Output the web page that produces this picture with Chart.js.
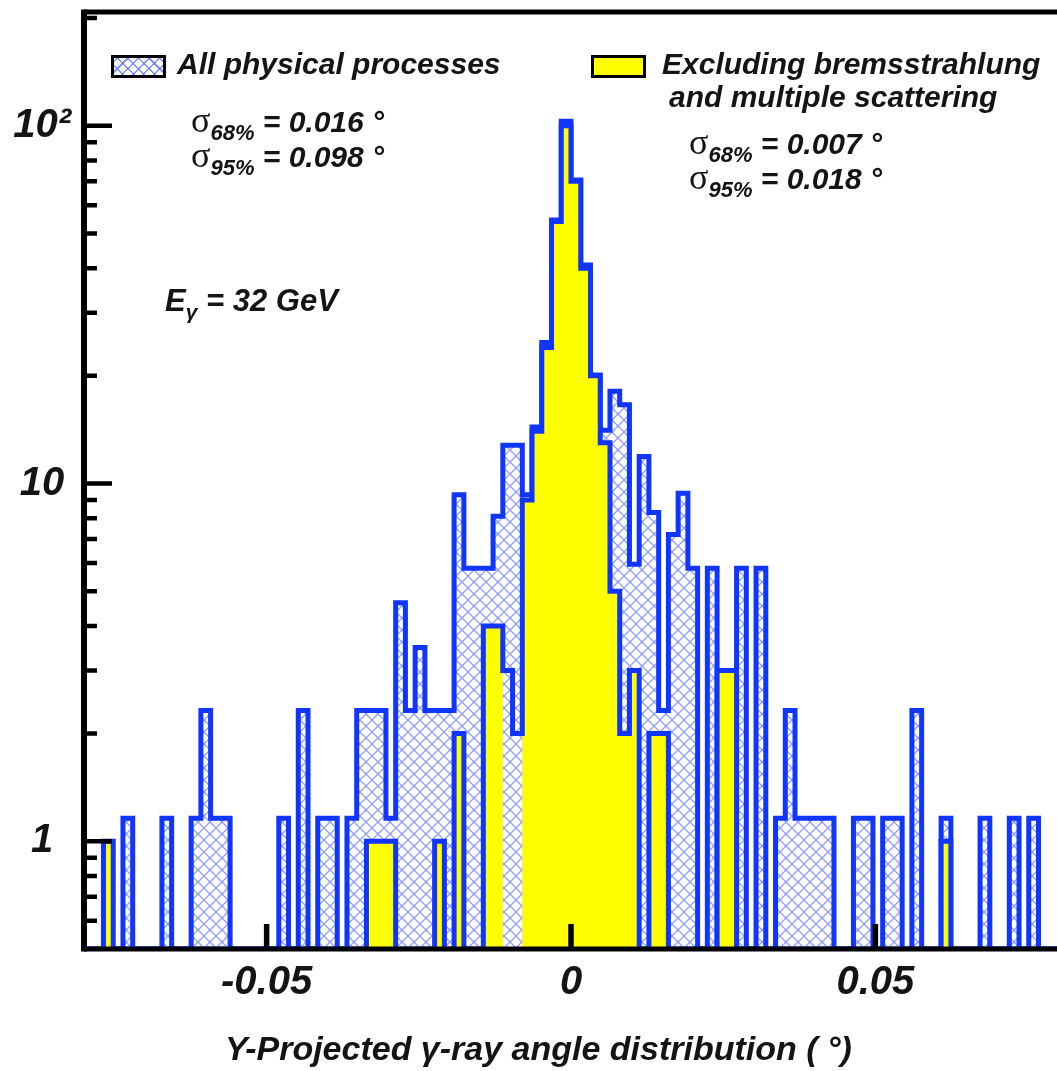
<!DOCTYPE html>
<html><head><meta charset="utf-8">
<script src="https://cdn.jsdelivr.net/npm/chart.js@4/dist/chart.umd.min.js"></script>
<style>
html,body{margin:0;padding:0;overflow:hidden;background:#fff;width:1057px;height:1071px}
#wrap{position:relative;width:1070px;height:1071px}
canvas{position:absolute;left:0;top:0}
.t{position:absolute;font-family:'Liberation Sans',Arial,sans-serif;font-style:italic;font-weight:bold;color:#141414;white-space:nowrap;line-height:1}
.sig{font-family:'Liberation Serif','DejaVu Serif',serif;font-style:normal;font-weight:normal;font-size:36px}
.sub{font-size:22px;position:relative;top:8px}
.box{position:absolute;box-sizing:border-box;border:3px solid #000}
</style></head>
<body>
<div id="wrap">
<canvas id="c" width="1070" height="1071"></canvas>
<div class="box" id="hbox" style="left:111px;top:55px;width:55px;height:23px"></div>
<div class="t" style="left:177px;top:49px;font-size:30px">All physical processes</div>
<div class="box" style="left:591px;top:55px;width:55px;height:23px;background:#ffff00"></div>
<div class="t" style="left:662px;top:49px;font-size:30px">Excluding bremsstrahlung</div>
<div class="t" style="left:669px;top:82px;font-size:30px">and multiple scattering</div>
<div class="t" style="left:191px;top:102px;font-size:30px"><span class="sig">σ</span><span class="sub">68%</span> = 0.016 °</div>
<div class="t" style="left:191px;top:137px;font-size:30px"><span class="sig">σ</span><span class="sub">95%</span> = 0.098 °</div>
<div class="t" style="left:689px;top:124px;font-size:30px"><span class="sig">σ</span><span class="sub">68%</span> = 0.007 °</div>
<div class="t" style="left:689px;top:159px;font-size:30px"><span class="sig">σ</span><span class="sub">95%</span> = 0.018 °</div>
<div class="t" style="left:165px;top:285px;font-size:31px">E<span class="sub" style="font-size:21px;top:8px">γ</span> = 32 GeV</div>
<div class="t" style="left:225px;top:1031px;font-size:34px">Y-Projected γ-ray angle distribution ( °)</div>
</div>
<script>
// ---- data ----
const X_MIN = -0.08, X_MAX = 0.08, BIN_WIDTH = 0.0016, Y_MIN = 0.5, Y_MAX = 208;
const binLowEdges = Array.from({length: 100}, (_, i) => +(X_MIN + i * BIN_WIDTH).toFixed(4));

// "All physical processes" (hatched)
const allProcesses = [
  0, 0, 0, 0, 1.16, 0, 0, 0, 1.16, 0,
  0, 1.16, 2.32, 1.16, 1.16, 0, 0, 0, 0, 0,
  1.16, 0, 2.32, 0, 1.16, 1.16, 0, 1.16, 2.32, 2.32,
  2.32, 1.16, 4.64, 2.32, 3.48, 2.32, 2.32, 2.32, 9.3, 5.8,
  5.8, 5.8, 8.1, 12.8, 12.8, 9.3, 14.4, 24.8, 54.5, 103,
  70.5, 40.8, 20.1, 14.1, 18.1, 16.6, 5.95, 11.9, 8.3, 2.32,
  7.2, 9.4, 5.8, 0, 5.8, 0, 0, 5.8, 0, 5.8,
  0, 1.16, 2.32, 1.16, 1.16, 1.16, 1.16, 0, 0, 1.16,
  1.16, 0, 1.16, 1.16, 0, 2.32, 0, 0, 1.16, 0,
  0, 0, 1.16, 0, 0, 1.16, 0, 1.16, 0, 0
];
// "Excluding bremsstrahlung and multiple scattering" (yellow)
const noBremsNoMS = [
  0, 0, 1, 0, 0, 0, 0, 0, 0, 0,
  0, 0, 0, 0, 0, 0, 0, 0, 0, 0,
  0, 0, 0, 0, 0, 0, 0, 0, 0, 1,
  1, 1, 0, 0, 0, 0, 1, 0, 2, 0,
  0, 4, 4, 3, 2, 9, 14, 24, 54, 100,
  70, 40, 20, 13, 5, 2, 3, 0, 2, 2,
  0, 0, 0, 0, 0, 3, 3, 0, 0, 0,
  0, 0, 0, 0, 0, 0, 0, 0, 0, 0,
  0, 0, 0, 0, 0, 0, 0, 0, 1, 0,
  0, 0, 0, 0, 0, 0, 0, 0, 0, 0
];
const xTickValues = [-0.05, 0, 0.05];
const xTickLabels = ['-0.05', '0', '0.05'];
const yTickValues = [1, 10, 100];
const yTickLabels = ['1', '10', '10²'];
const yMinorTicks = [0.6, 0.7, 0.8, 0.9, 2, 3, 4, 5, 6, 7, 8, 9, 20, 30, 40, 50, 60, 70, 80, 90, 200];

// ---- styles ----
const BLUE = '#0f35ff';
const YELLOW = '#ffff00';
const FONT = "'Liberation Sans', Arial, sans-serif";
// bins whose yellow outline in the reference sits over the hatch, without yellow fill
const yellowOutlineOnlyBins = [43, 44];

function hatchPattern(size, color) {
  const c = document.createElement('canvas');
  c.width = c.height = size;
  const g = c.getContext('2d');
  g.fillStyle = '#fff'; g.fillRect(0, 0, size, size);
  g.strokeStyle = color; g.lineWidth = 1.3;
  g.beginPath();
  g.moveTo(-1, -1); g.lineTo(size + 1, size + 1);
  g.moveTo(size + 1, -1); g.lineTo(-1, size + 1);
  g.stroke();
  return g.createPattern(c, 'repeat');
}
const hatch = hatchPattern(12, 'rgba(85,105,255,0.65)');
(function () {
  const hb = document.getElementById('hbox');
  hb.style.background = '#fff';
  hb.style.backgroundImage = 'repeating-linear-gradient(45deg, transparent 0 6px, rgba(85,105,255,0.7) 6px 7.5px), repeating-linear-gradient(-45deg, transparent 0 6px, rgba(85,105,255,0.7) 6px 7.5px)';
})();

function stepPoints(counts) {
  const pts = [{x: binLowEdges[0], y: Y_MIN}];
  counts.forEach((c, i) => pts.push({x: binLowEdges[i], y: c > 0 ? c : Y_MIN}));
  pts.push({x: +(binLowEdges[counts.length - 1] + BIN_WIDTH).toFixed(4), y: Y_MIN});
  return pts;
}
const yellowFillCounts = noBremsNoMS.map((v, i) => yellowOutlineOnlyBins.includes(i) ? 0 : v);

const framePlugin = {
  id: 'frame',
  afterDatasetsDraw(chart) {
    const {ctx, chartArea: a, scales: {x, y}} = chart;
    ctx.save();
    ctx.strokeStyle = '#000';
    ctx.lineCap = 'butt';
    ctx.lineWidth = 4.5;
    ctx.beginPath();
    yMinorTicks.forEach(v => {
      const p = y.getPixelForValue(v);
      if (p < a.top || p > a.bottom) return;
      ctx.moveTo(a.left, p); ctx.lineTo(a.left + 13, p);
    });
    yTickValues.forEach(v => {
      const p = y.getPixelForValue(v);
      ctx.moveTo(a.left, p); ctx.lineTo(a.left + 28, p);
    });
    ctx.stroke();
    ctx.lineWidth = 5.5;
    ctx.beginPath();
    xTickValues.forEach(v => {
      const p = x.getPixelForValue(v);
      ctx.moveTo(p, a.bottom); ctx.lineTo(p, a.bottom - 25);
    });
    ctx.stroke();
    ctx.lineWidth = 5;
    ctx.beginPath();
    ctx.moveTo(a.left, a.top); ctx.lineTo(a.right + 10, a.top);
    ctx.moveTo(a.left, a.bottom); ctx.lineTo(a.right + 10, a.bottom);
    ctx.stroke();
    ctx.lineWidth = 6;
    ctx.beginPath();
    ctx.moveTo(a.left, a.top - 2.5); ctx.lineTo(a.left, a.bottom + 2.5);
    ctx.stroke();
    ctx.restore();
  }
};

new Chart(document.getElementById('c'), {
  type: 'line',
  data: {
    datasets: [
      {
        label: 'Excluding bremsstrahlung and multiple scattering',
        data: stepPoints(noBremsNoMS),
        stepped: 'before',
        borderColor: BLUE, borderWidth: 5, backgroundColor: YELLOW,
        fill: false, pointRadius: 0, borderJoinStyle: 'miter', order: 0
      },
      {
        label: 'Excluding bremsstrahlung and multiple scattering (fill)',
        data: stepPoints(yellowFillCounts),
        stepped: 'before',
        borderWidth: 0, borderColor: 'rgba(0,0,0,0)', backgroundColor: YELLOW,
        fill: 'start', pointRadius: 0, order: 1
      },
      {
        label: 'All physical processes',
        data: stepPoints(allProcesses),
        stepped: 'before',
        borderColor: BLUE, borderWidth: 5, backgroundColor: hatch,
        fill: 'start', pointRadius: 0, borderJoinStyle: 'miter', order: 2
      }
    ]
  },
  options: {
    responsive: false, animation: false, devicePixelRatio: 1,
    layout: {padding: {left: 0, top: 12, right: 12, bottom: 0}},
    plugins: {legend: {display: false}, tooltip: {enabled: false}},
    scales: {
      x: {
        type: 'linear', min: X_MIN, max: X_MAX,
        grid: {display: false, drawTicks: false}, border: {display: false},
        afterFit(s) { s.height = 122; s.paddingLeft = 0; s.paddingRight = 0; },
        afterBuildTicks(s) { s.ticks = xTickValues.map(v => ({value: v})); },
        ticks: {autoSkip: false, maxRotation: 0, padding: 10, color: '#141414',
          font: {family: FONT, size: 40, style: 'italic', weight: 'bold'},
          callback: (v, i) => xTickLabels[i]}
      },
      y: {
        type: 'logarithmic', min: Y_MIN, max: Y_MAX,
        grid: {display: false, drawTicks: false}, border: {display: false},
        afterFit(s) { s.width = 84; s.paddingTop = 0; s.paddingBottom = 0; },
        afterBuildTicks(s) { s.ticks = yTickValues.map(v => ({value: v})); },
        ticks: {autoSkip: false, crossAlign: 'center', padding: 13, color: '#141414',
          font: {family: FONT, size: 40, style: 'italic', weight: 'bold'},
          callback: (v, i) => yTickLabels[i]}
      }
    }
  },
  plugins: [framePlugin]
});
</script>
</body></html>
